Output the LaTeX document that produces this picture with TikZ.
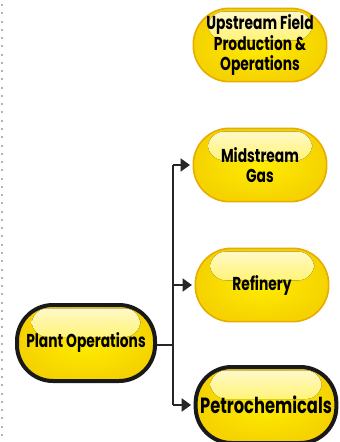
\documentclass[tikz,border=0pt]{standalone}
\usepackage{fontspec}
\setmainfont{Poppins}[FakeStretch=0.74]
\usetikzlibrary{arrows.meta}
\definecolor{pillgold}{HTML}{E6AC00}
\definecolor{pillyellow}{HTML}{FFEC00}
\definecolor{pillshine}{HTML}{FFF9D0}
\begin{document}
\begin{tikzpicture}[x=0.75pt,y=-0.75pt,
  pill/.style={rectangle, rounded corners=27pt, minimum width=100pt, minimum height=55pt,
    inner color=pillyellow, outer color=pillgold!40!pillyellow, draw=pillgold, line width=1.2pt,
    align=center, font=\bfseries\fontsize{14}{14.5}\selectfont,
    path picture={\fill[top color=pillshine, bottom color=pillyellow, rounded corners=12pt]
      ([xshift=11pt,yshift=-2.5pt]path picture bounding box.north west) rectangle
      ([xshift=-11pt,yshift=-24pt]path picture bounding box.north east);}},
  mainpill/.style={pill, draw=black!90, line width=3pt, minimum width=103.5pt, minimum height=57pt},
  link/.style={line width=0.8pt, black!85},
  tip/.style={link, -{Triangle[length=7pt,width=10pt]}, shorten >=2pt}]
\useasboundingbox (0,0) rectangle (339,442);
% dotted margin
\draw[gray!60, line width=1.5pt, dash pattern=on 1.5pt off 4.7pt] (2,4) -- (2,442);
% boxes
\node[pill] (up) at (260,45) {Upstream Field\\Production \&\\Operations};
\node[pill] (mid) at (260,165) {Midstream\\Gas};
\node[pill] (ref) at (262,285) {Refinery};
\node[mainpill, font=\bfseries\fontsize{16.5}{17}\selectfont] (petro) at (266,405) {Petrochemicals};
\node[mainpill, font=\bfseries\fontsize{14}{15}\selectfont] (plant) at (86,343) {Plant Operations};
% connectors
\coordinate (trunk) at (173,345);
\draw[link] (plant.east |- trunk) -- (trunk);
\draw[link] (trunk |- mid.west) -- (trunk |- petro.west);
\draw[tip] (trunk |- mid.west) -- (mid.west);
\draw[tip] (trunk |- ref.west) -- (ref.west);
\draw[tip] (trunk |- petro.west) -- (petro.west);
\end{tikzpicture}
\end{document}
